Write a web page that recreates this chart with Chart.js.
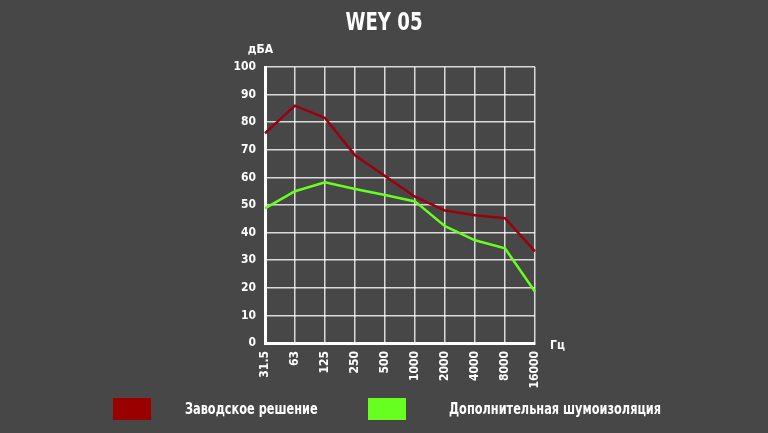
<!DOCTYPE html>
<html>
<head>
<meta charset="utf-8">
<script src="https://cdn.jsdelivr.net/npm/chart.js@4"></script>
<style>
  html, body { margin: 0; padding: 0; background: #474747; }
  #wrap { position: relative; width: 768px; height: 433px; }
  .lg { position: absolute; font-family: 'Liberation Sans Narrow', 'DejaVu Sans Condensed', sans-serif;
        font-weight: bold; font-size: 15px; color: #fff; transform: scaleX(0.84); transform-origin: left center; white-space: nowrap; }
  .box { position: absolute; width: 38px; height: 22px; }
</style>
</head>
<body>
<div id="wrap">
  <canvas id="chart" width="768" height="433"></canvas>
  <div class="box" style="left:113px;top:398px;background:#9b0000;"></div>
  <div class="lg" style="left:185px;top:400px;">Заводское решение</div>
  <div class="box" style="left:368px;top:398px;background:#66ff1f;"></div>
  <div class="lg" style="left:449px;top:400px;">Дополнительная шумоизоляция</div>
</div>
<script>
// частоты, Гц
const freqs = ['31.5', '63', '125', '250', '500', '1000', '2000', '4000', '8000', '16000'];
// уровень шума, дБА
const factory = [76, 86, 81.5, 68, 60.5, 53, 48, 46.3, 45.2, 33.2];
const extra = [48.8, 55, 58.2, 55.8, 53.6, 51.3, 42.3, 37.2, 34.3, 18.6];

const FONT = "'Liberation Sans Narrow', 'DejaVu Sans Condensed', sans-serif";

// подписи осей и заголовок
const labelsPlugin = {
  id: 'labels',
  afterDraw(chart) {
    const { ctx, chartArea } = chart;
    ctx.save();
    ctx.fillStyle = '#fff';
    ctx.font = 'bold 24px ' + FONT;
    ctx.textAlign = 'center';
    ctx.textBaseline = 'middle';
    ctx.translate(384, 24);
    ctx.scale(0.84, 1);
    ctx.fillText('WEY 05', 0, 0);
    ctx.restore();
    ctx.save();
    ctx.fillStyle = '#fff';
    ctx.font = 'bold 12px ' + FONT;
    ctx.textBaseline = 'middle';
    ctx.textAlign = 'right';
    ctx.fillText('дБА', chartArea.left + 8, 50);
    ctx.textAlign = 'left';
    ctx.fillText('Гц', chartArea.right + 15, chartArea.bottom + 3);
    ctx.restore();
  }
};

new Chart(document.getElementById('chart'), {
  type: 'line',
  data: {
    labels: freqs,
    datasets: [
      { label: 'Заводское решение', data: factory, borderColor: '#9b0010', borderWidth: 2.5, pointRadius: 0, tension: 0 },
      { label: 'Дополнительная шумоизоляция', data: extra, borderColor: '#66ff1f', borderWidth: 2.5, pointRadius: 0, tension: 0 }
    ]
  },
  options: {
    responsive: false,
    animation: false,
    layout: { padding: { left: 225, right: 233, top: 67, bottom: 0 } },
    plugins: { legend: { display: false }, tooltip: { enabled: false } },
    scales: {
      x: {
        offset: false,
        afterFit: s => { s.height = 90; },
        grid: { color: 'rgba(255,255,255,0.8)', lineWidth: 1.5, drawTicks: false },
        border: { color: '#fff', width: 3 },
        ticks: { color: '#fff', font: { family: FONT, weight: 'bold', size: 12 }, minRotation: 90, maxRotation: 90, padding: 8 }
      },
      y: {
        min: 0, max: 100,
        afterFit: s => { s.width = 40; },
        grid: { color: 'rgba(255,255,255,0.8)', lineWidth: 1.5, drawTicks: false },
        border: { color: '#fff', width: 3 },
        ticks: { stepSize: 10, color: '#fff', font: { family: FONT, weight: 'bold', size: 12 }, padding: 9 }
      }
    }
  },
  plugins: [labelsPlugin]
});
</script>
</body>
</html>
